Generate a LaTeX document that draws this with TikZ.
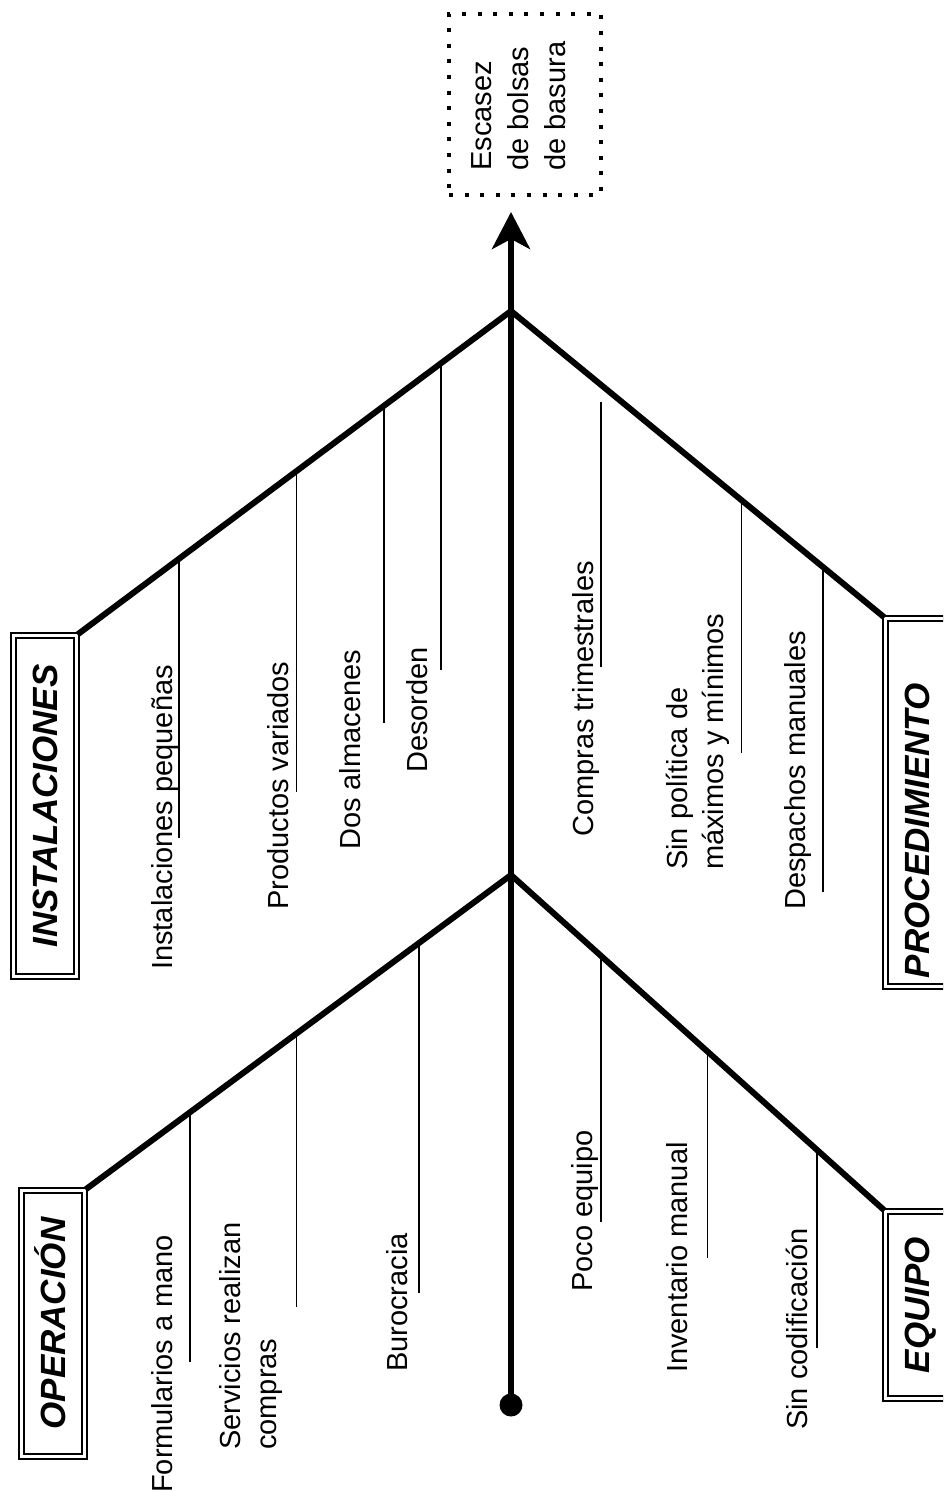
\documentclass[tikz,border=0pt]{standalone}
\usepackage{fontspec}
\setmainfont{Liberation Sans}
\usetikzlibrary{arrows.meta}
\begin{document}
\begin{tikzpicture}[x=1pt,y=-1pt,
  bone/.style={line width=6pt},
  twig/.style={line width=1.6pt},
  cause/.style={rotate=90, draw, line width=2pt, double, double distance=3pt,
    inner sep=0pt, minimum height=63pt,
    font=\fontsize{35}{40}\selectfont\bfseries\itshape,
    text height=25pt, text depth=0pt},
  lab/.style={rotate=90, anchor=base west, inner sep=0pt, align=left,
    font=\fontsize{29}{36}\selectfont},
  efflab/.style={lab, font=\fontsize{29}{37}\selectfont},
  effbox/.style={draw, line width=4pt, dash pattern=on 4pt off 11.6pt,
    minimum width=152pt, minimum height=181pt, inner sep=0pt}]
\useasboundingbox (0,0) rectangle (943,1498);
\fill[white] (0,0) rectangle (943,1498);
\clip (0,0) rectangle (943,1498);

% effect box and its text (base anchor = baseline of the last line)
\node[effbox] (effect) at (525,104.5) {};
\node[efflab] (efftext) at (565,171) {Escasez\\de bolsas\\de basura};

% category boxes
\node[cause, minimum width=341pt] (inst) at (45,806) {INSTALACIONES};
\node[cause, minimum width=266pt] (oper) at (53,1323.5) {OPERACIÓN};
\node[cause, minimum width=187pt] (equi) at (917,1305) {EQUIPO};
\node[cause, text width=351pt, inner xsep=8.5pt, align=left] (proc) at (917,802.5) {PROCEDIMIENTO};

% spine
\coordinate (J1) at (511,311);
\coordinate (J2) at (511,875);
\node[circle, fill, inner sep=0pt, minimum size=23pt] (tail) at (511,1405) {};
\draw[bone, -{Stealth[length=37pt, width=38pt, inset=10pt]}, shorten >=15pt]
  (tail.center) -- (tail |- effect.south);

% main bones
\draw[bone] (J1) -- (inst.south east);
\draw[bone] (J1) -- (proc.north east);
\draw[bone] (J2) -- (oper.south east);
\draw[bone] (J2) -- (equi.north east);

% points on the bones
\path (J1) -- (inst.south east)
  coordinate[pos=0.7664] (i1) coordinate[pos=0.4948] (i2)
  coordinate[pos=0.2923] (i3) coordinate[pos=0.1611] (i4);
\path (J1) -- (proc.north east)
  coordinate[pos=0.2403] (p1) coordinate[pos=0.6168] (p2)
  coordinate[pos=0.8358] (p3);
\path (J2) -- (oper.south east)
  coordinate[pos=0.7550] (o1) coordinate[pos=0.5041] (o2)
  coordinate[pos=0.2157] (o3);
\path (J2) -- (equi.north east)
  coordinate[pos=0.2403] (e1) coordinate[pos=0.5260] (e2)
  coordinate[pos=0.8198] (e3);

% lower ends of the sub-causes
\coordinate (i1b) at (178,838);
\coordinate (i2b) at (296,792);
\coordinate (i3b) at (384,723);
\coordinate (i4b) at (441,670);
\coordinate (p1b) at (601,667);
\coordinate (p2b) at (742,753);
\coordinate (p3b) at (824,892);
\coordinate (o1b) at (189,1362);
\coordinate (o2b) at (296,1307);
\coordinate (o3b) at (419,1293);
\coordinate (e1b) at (601,1222);
\coordinate (e2b) at (708,1258);
\coordinate (e3b) at (818,1348);

\foreach \c in {i1,i2,i3,i4,p2,p3,o1,o2,o3,e1,e2,e3}
  \draw[twig] (\c) -- (\c |- \c b);
\draw[twig, shorten <=17pt] (p1) -- (p1 |- p1b);

% sub-cause labels
\node[lab] (ti1) at (172,970) {Instalaciones pequeñas};
\node[lab] (ti2) at (288,910) {Productos variados};
\node[lab] (ti3) at (360,850) {Dos almacenes};
\node[lab] (ti4) at (427,773) {Desorden};
\node[lab] (tp1) at (593,837) {Compras trimestrales};
\node[lab] (tp2) at (723,870) {Sin política de\\máximos y mínimos};
\node[lab] (tp3) at (805,910) {Despachos manuales};
\node[lab] (to1) at (172,1493) {Formularios a mano};
\node[lab] (to2) at (276,1450) {Servicios realizan\\compras};
\node[lab] (to3) at (407,1372) {Burocracia};
\node[lab] (te1) at (592,1292) {Poco equipo};
\node[lab] (te2) at (687,1373) {Inventario manual};
\node[lab] (te3) at (807,1430) {Sin codificación};
\end{tikzpicture}
\end{document}
